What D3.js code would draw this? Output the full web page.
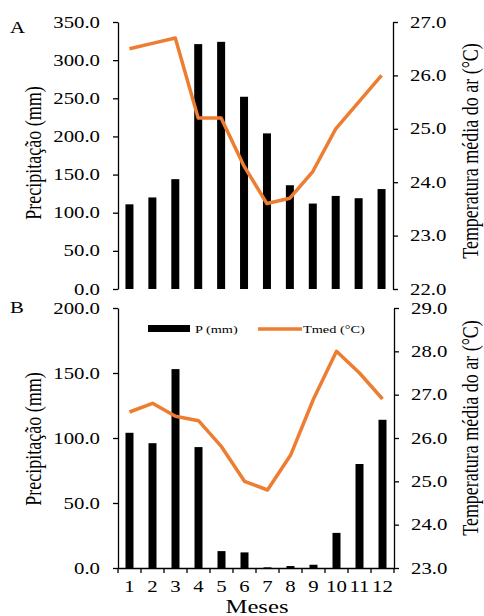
<!DOCTYPE html>
<html>
<head>
<meta charset="utf-8">
<script src="https://cdn.jsdelivr.net/npm/d3@7"></script>
<style>
  body { margin: 0; background: #fff; }
  svg text { font-family: "Liberation Serif", "Times New Roman", serif; fill: #000; }
</style>
</head>
<body>
<svg id="chart" width="484" height="616"></svg>
<script>
// months
const months = ['1', '2', '3', '4', '5', '6', '7', '8', '9', '10', '11', '12'];

// panel A
const precipA = [111, 120, 144, 321, 324, 252, 204, 136, 112, 122, 119, 131];
const tmedA = [26.5, 26.6, 26.7, 25.2, 25.2, 24.3, 23.6, 23.7, 24.2, 25.0, 25.5, 26.0];
const precipTicksA = [0, 50, 100, 150, 200, 250, 300, 350];
const tempTicksA = [22, 23, 24, 25, 26, 27];

// panel B
const precipB = [104, 96, 153, 93, 13, 12, 0.5, 1.5, 2.5, 27, 80, 114];
const tmedB = [26.6, 26.8, 26.5, 26.4, 25.8, 25.0, 24.8, 25.6, 26.9, 28.0, 27.5, 26.9];
const precipTicksB = [0, 50, 100, 150, 200];
const tempTicksB = [23, 24, 25, 26, 27, 28, 29];

const legendLabels = ['P (mm)', 'Tmed (°C)'];

const ORANGE = '#ED7D31';
const SX = 1.3;   // the source picture is stretched sideways, text too
const FONT = '"Liberation Serif", "Times New Roman", serif';
const svg = d3.select('#chart');

function drawPanel(o) {
  const x = d3.scaleBand().domain(months).range([o.left, o.right]);
  const yP = d3.scaleLinear().domain(o.pDomain).range([o.bottom, o.top]);
  const yT = d3.scaleLinear().domain(o.tDomain).range([o.bottom, o.top]);
  const g = svg.append('g');

  // bars
  g.selectAll('rect.bar').data(o.precip).enter().append('rect')
      .attr('class', 'bar')
      .attr('x', (d, i) => x(months[i]) + x.bandwidth() / 2 - 4)
      .attr('width', 8)
      .attr('y', d => yP(d))
      .attr('height', d => o.bottom - yP(d))
      .attr('fill', '#000');

  // left axis
  const la = g.append('g')
      .attr('transform', 'translate(' + o.left + ',0)')
      .call(d3.axisLeft(yP).tickValues(o.pTicks).tickFormat(d3.format('.1f')).tickSize(5).tickSizeOuter(0));
  la.selectAll('text')
      .attr('x', -18 / SX)
      .attr('transform', 'scale(' + SX + ',1)');

  // right axis
  const ra = g.append('g')
      .attr('transform', 'translate(' + o.right + ',0)')
      .call(d3.axisRight(yT).tickValues(o.tTicks).tickFormat(d3.format('.1f')).tickSize(5).tickSizeOuter(0));
  ra.selectAll('text')
      .attr('x', 17 / SX)
      .attr('transform', 'scale(' + SX + ',1)');

  [la, ra].forEach(a => {
    a.attr('font-family', FONT).attr('font-size', 16);
    a.selectAll('path, line').attr('stroke', '#000').attr('stroke-width', 1.3);
  });

  // temperature line
  g.append('path')
      .datum(o.tmed)
      .attr('fill', 'none')
      .attr('stroke', ORANGE)
      .attr('stroke-width', 3.5)
      .attr('stroke-linejoin', 'round')
      .attr('d', d3.line().x((d, i) => x(months[i]) + x.bandwidth() / 2).y(d => yT(d)));

  // axis titles
  g.append('text')
      .attr('transform', 'translate(' + o.ltx + ',' + o.lty + ') scale(' + SX + ',1) rotate(-90)')
      .attr('text-anchor', 'middle')
      .style('font-size', '18px')
      .text('Precipitação (mm)');
  g.append('text')
      .attr('transform', 'translate(' + o.rtx + ',' + o.rty + ') scale(' + SX + ',1) rotate(-90)')
      .attr('text-anchor', 'middle')
      .style('font-size', '18px')
      .text('Temperatura média do ar (°C)');

  // panel letter
  g.append('text')
      .attr('transform', 'translate(10,' + o.letterY + ') scale(' + SX + ',1)')
      .style('font-size', '16px')
      .text(o.letter);

  return {g: g, x: x};
}

drawPanel({
  left: 118, right: 393, top: 22, bottom: 289,
  pDomain: [0, 350], tDomain: [22, 27],
  pTicks: precipTicksA, tTicks: tempTicksA,
  precip: precipA, tmed: tmedA,
  ltx: 41, lty: 153, rtx: 478, rty: 151,
  letter: 'A', letterY: 33
});

const pb = drawPanel({
  left: 118, right: 394, top: 308, bottom: 568,
  pDomain: [0, 200], tDomain: [23, 29],
  pTicks: precipTicksB, tTicks: tempTicksB,
  precip: precipB, tmed: tmedB,
  ltx: 41, lty: 439, rtx: 478, rty: 428,
  letter: 'B', letterY: 313
});

// month axis, panel B only
const xb = pb.x;
const xa = pb.g.append('g')
    .attr('transform', 'translate(0,568)')
    .call(d3.axisBottom(xb).tickSize(0).tickSizeOuter(0));
xa.attr('font-family', FONT).attr('font-size', 16);
xa.select('.domain').attr('stroke', '#000').attr('stroke-width', 1.3);
xa.selectAll('text')
    .attr('y', 12.5)
    .attr('transform', 'scale(' + SX + ',1)');
xa.selectAll('line.bound')
    .data(d3.range(months.length + 1))
    .enter().append('line')
    .attr('class', 'bound')
    .attr('x1', i => xb.range()[0] + i * xb.step())
    .attr('x2', i => xb.range()[0] + i * xb.step())
    .attr('y1', 0).attr('y2', 5)
    .attr('stroke', '#000').attr('stroke-width', 1.3);

svg.append('text')
    .attr('transform', 'translate(257,613) scale(' + SX + ',1)')
    .attr('text-anchor', 'middle')
    .style('font-size', '19px')
    .text('Meses');

// legend
const lg = svg.append('g');
lg.append('rect').attr('x', 148).attr('y', 325).attr('width', 42).attr('height', 7).attr('fill', '#000');
lg.append('text')
    .attr('transform', 'translate(195,333) scale(' + SX + ',1)')
    .style('font-size', '11px')
    .text(legendLabels[0]);
lg.append('line')
    .attr('x1', 258).attr('x2', 302).attr('y1', 329).attr('y2', 329)
    .attr('stroke', ORANGE).attr('stroke-width', 3.5);
lg.append('text')
    .attr('transform', 'translate(303,333) scale(' + SX + ',1)')
    .style('font-size', '11px')
    .text(legendLabels[1]);
</script>
</body>
</html>
